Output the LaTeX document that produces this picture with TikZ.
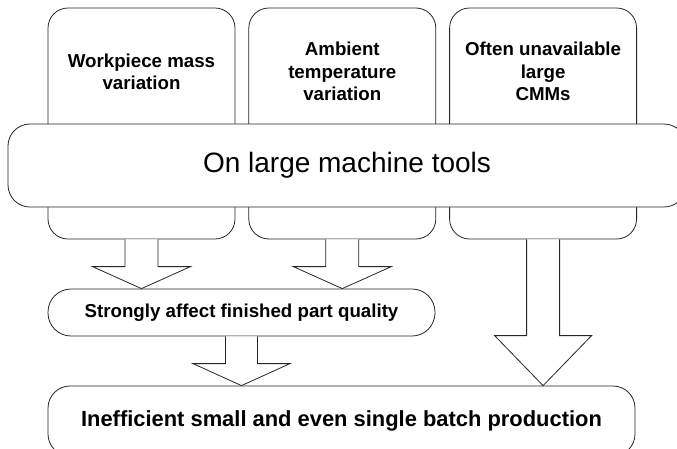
\documentclass[tikz,border=0pt]{standalone}
\usepackage{fontspec}
\usepackage{tikz}
\usetikzlibrary{positioning,calc}
\newfontfamily\arialfont{Liberation Sans}
% block arrow: from, to, shaft half width, head half width, head length
\newcommand{\blockarrow}[5]{%
  \draw[outline, fill=white] let \p1=(#1), \p2=(#2) in
    (\x1-#3,\y1) -- (\x1-#3,\y2+#5) -- (\x1-#4,\y2+#5) -- (\x1,\y2)
    -- (\x1+#4,\y2+#5) -- (\x1+#3,\y2+#5) -- (\x1+#3,\y1);}

\begin{document}
\begin{tikzpicture}[
  x=1pt, y=-1pt,
  outline/.style={draw=black!85, line width=0.8pt},
  box/.style={rectangle, outline, fill=white, rounded corners=20pt, inner sep=0pt},
  topbox/.style={box, minimum width=187pt, minimum height=231pt},
  toptext/.style={align=center, font=\arialfont\bfseries\fontsize{18.7}{22.5}\selectfont},
  bigbox/.style={box, rounded corners=22pt, minimum width=678pt, minimum height=83pt,
                 font=\arialfont\fontsize{28}{32}\selectfont},
  pillbox/.style={box, rounded corners=23pt, minimum width=387pt, minimum height=47pt,
                  font=\arialfont\bfseries\fontsize{18.7}{22}\selectfont},
  endbox/.style={box, rounded corners=22pt, minimum width=587pt, minimum height=70pt,
                 font=\arialfont\bfseries\fontsize{21.9}{26}\selectfont},
]
\useasboundingbox (0,0) rectangle (677,448);

% Causes
\node[topbox] (mass) at (141.5,123.5) {};
\node[topbox, right=13pt of mass] (ambient) {};
\node[topbox, right=13pt of ambient] (cmm) {};
\node[toptext] (massT) at ([yshift=-64pt]mass.north) {Workpiece mass\\variation};
\node[toptext] (ambientT) at ([yshift=-64pt]ambient.north) {Ambient\\temperature\\variation};
\node[toptext] (cmmT) at ([yshift=-64pt]cmm.north) {Often unavailable\\large\\CMMs};

% Setting
\node[bigbox] (machine) at (347,165.5) {On large machine tools};

% Effects
\node[pillbox] (quality) at (241.5,312.5) {Strongly affect finished part quality};
\node[endbox] (batch) at (341.5,421) {Inefficient small and even single batch production};

% Arrows
\blockarrow{mass.south}{mass.south |- quality.north}{16.5pt}{49pt}{22pt}
\blockarrow{ambient.south}{ambient.south |- quality.north}{16.5pt}{49pt}{22pt}
\blockarrow{quality.south}{quality.south |- batch.north}{16pt}{48.5pt}{22pt}
\blockarrow{cmm.south}{cmm.south |- batch.north}{16.5pt}{48.5pt}{50pt}

\end{tikzpicture}
\end{document}
